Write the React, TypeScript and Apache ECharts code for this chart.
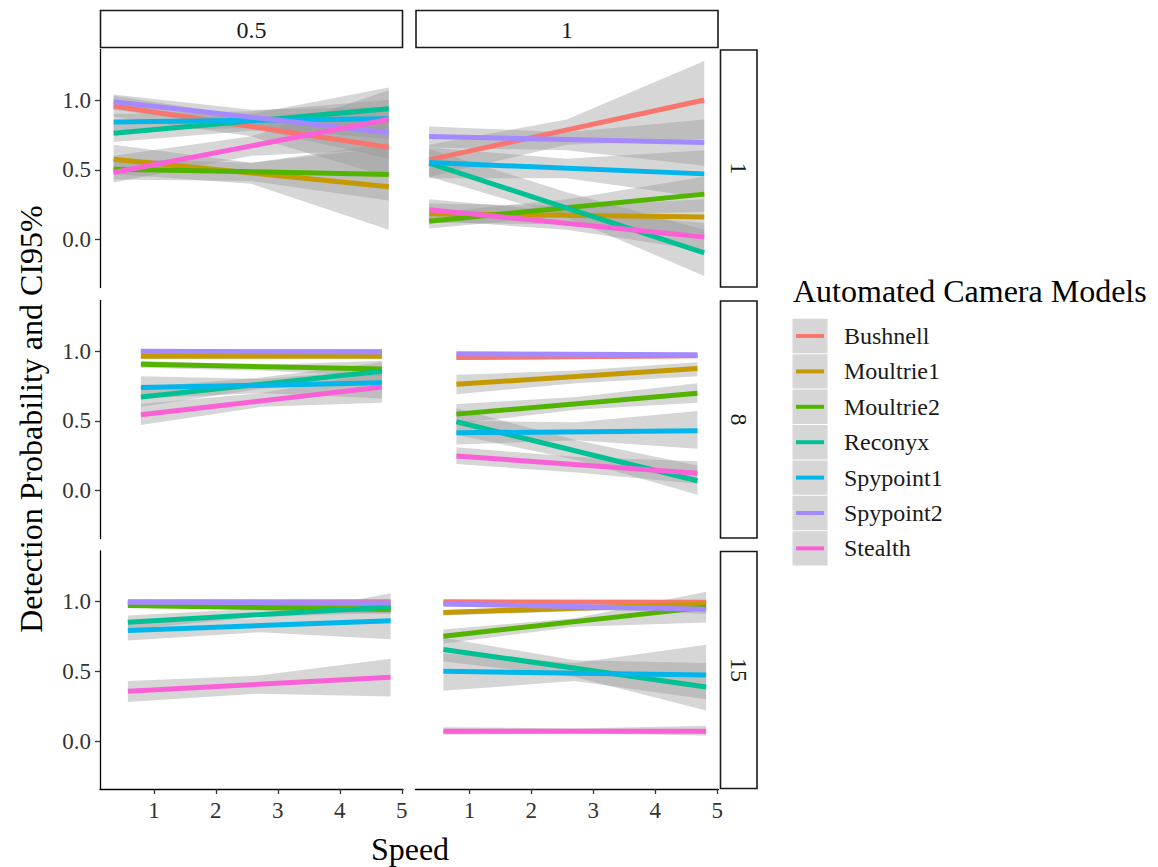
import React, { useEffect, useRef } from "react";
import * as echarts from "echarts";

// ---------- data ----------
const cameras = ["Bushnell", "Moultrie1", "Moultrie2", "Reconyx", "Spypoint1", "Spypoint2", "Stealth"];
const colors = ["#F8766D", "#C49A00", "#53B400", "#00C094", "#00B6EB", "#A58AFF", "#FB61D7"];
const colLabels = ["0.5", "1"];
const rowLabels = ["1", "8", "15"];
const xTicks = [1, 2, 3, 4, 5];
const yTicks = [0, 0.5, 1];

// speed positions (start, middle, end) of each panel's fitted lines
const speedR1 = [0.35, 2.57, 4.79];
const speedR8 = [0.79, 2.73, 4.68];
const speedR15 = [0.58, 2.7, 4.82];

// per camera: [fitStart, fitEnd, loStart, hiStart, loMid, hiMid, loEnd, hiEnd]
const fitRow1Col05 = [
  [0.957, 0.662, 0.88, 1.03, 0.74, 0.88, 0.45, 0.86],
  [0.576, 0.379, 0.47, 0.68, 0.4, 0.55, 0.07, 0.69],
  [0.505, 0.467, 0.43, 0.58, 0.42, 0.55, 0.28, 0.66],
  [0.762, 0.938, 0.7, 0.83, 0.78, 0.9, 0.78, 1.09],
  [0.843, 0.866, 0.78, 0.9, 0.8, 0.92, 0.72, 1.0],
  [0.988, 0.766, 0.93, 1.04, 0.8, 0.93, 0.58, 0.95],
  [0.481, 0.862, 0.41, 0.6, 0.6, 0.74, 0.65, 1.07],
];
const fitRow1Col1 = [
  [0.571, 1.0, 0.45, 0.68, 0.68, 0.86, 0.72, 1.28],
  [0.186, 0.162, 0.12, 0.26, 0.11, 0.24, 0.04, 0.29],
  [0.131, 0.326, 0.08, 0.19, 0.17, 0.29, 0.2, 0.45],
  [0.548, -0.095, 0.45, 0.65, 0.16, 0.34, -0.26, 0.07],
  [0.552, 0.471, 0.44, 0.66, 0.44, 0.58, 0.3, 0.64],
  [0.738, 0.695, 0.66, 0.81, 0.64, 0.77, 0.53, 0.86],
  [0.214, 0.019, 0.14, 0.29, 0.07, 0.2, -0.08, 0.12],
];
const fitRow8Col05 = [
  [0.995, 0.995, 0.985, 1.005, 0.985, 1.003, 0.985, 1.005],
  [0.962, 0.962, 0.945, 0.975, 0.95, 0.972, 0.945, 0.975],
  [0.905, 0.872, 0.88, 0.93, 0.86, 0.9, 0.82, 0.93],
  [0.671, 0.855, 0.6, 0.74, 0.73, 0.81, 0.78, 0.92],
  [0.738, 0.772, 0.66, 0.82, 0.7, 0.8, 0.66, 0.87],
  [0.998, 0.993, 0.99, 1.005, 0.99, 1.003, 0.985, 1.0],
  [0.543, 0.743, 0.47, 0.62, 0.6, 0.7, 0.63, 0.85],
];
const fitRow8Col1 = [
  [0.953, 0.967, 0.935, 0.97, 0.945, 0.975, 0.95, 0.985],
  [0.762, 0.874, 0.69, 0.83, 0.77, 0.86, 0.82, 0.92],
  [0.548, 0.698, 0.48, 0.62, 0.58, 0.67, 0.63, 0.77],
  [0.493, 0.071, 0.4, 0.59, 0.22, 0.36, -0.03, 0.18],
  [0.414, 0.429, 0.33, 0.5, 0.36, 0.49, 0.3, 0.57],
  [0.981, 0.974, 0.97, 0.99, 0.965, 0.985, 0.96, 0.985],
  [0.248, 0.124, 0.19, 0.31, 0.13, 0.24, 0.05, 0.21],
];
const fitRow15Col05 = [
  [0.998, 0.998, 0.99, 1.005, 0.99, 1.005, 0.99, 1.005],
  [0.985, 0.975, 0.975, 0.995, 0.965, 0.99, 0.955, 0.99],
  [0.971, 0.943, 0.955, 0.985, 0.94, 0.97, 0.91, 0.97],
  [0.852, 0.96, 0.8, 0.9, 0.89, 0.95, 0.92, 0.99],
  [0.793, 0.862, 0.72, 0.86, 0.78, 0.88, 0.73, 1.06],
  [0.995, 0.99, 0.99, 1.0, 0.985, 0.997, 0.98, 1.0],
  [0.357, 0.457, 0.28, 0.43, 0.34, 0.47, 0.32, 0.59],
];
const fitRow15Col1 = [
  [0.998, 0.995, 0.99, 1.006, 0.988, 1.004, 0.985, 1.005],
  [0.921, 0.983, 0.9, 0.94, 0.93, 0.97, 0.95, 1.01],
  [0.752, 0.96, 0.7, 0.8, 0.82, 0.88, 0.85, 1.07],
  [0.657, 0.388, 0.57, 0.74, 0.46, 0.58, 0.22, 0.56],
  [0.5, 0.474, 0.36, 0.63, 0.43, 0.56, 0.3, 0.69],
  [0.983, 0.945, 0.965, 1.0, 0.95, 0.98, 0.91, 0.98],
  [0.071, 0.071, 0.045, 0.1, 0.055, 0.09, 0.04, 0.11],
];

// panels in row-major order (row facet, column facet)
const panelFits = [fitRow1Col05, fitRow1Col1, fitRow8Col05, fitRow8Col1, fitRow15Col05, fitRow15Col1];
const panelSpeeds = [speedR1, speedR1, speedR8, speedR8, speedR15, speedR15];

// ---------- layout ----------
const FONT = '"Liberation Serif", "Times New Roman", serif';
const gridLefts = [100, 415.5];
const gridTops = [49.5, 300.5, 551];
const GW = 303;
const GH = 238;
const X_MIN = 0.13;
const X_MAX = 5.02;
const Y_MIN = -0.343;
const Y_MAX = 1.362;
const BAND_FILL = "rgba(153,153,153,0.4)";
const TITLE_SIZE = 32;

function buildOption() {
  const grid: any[] = [];
  const xAxis: any[] = [];
  const yAxis: any[] = [];
  const series: any[] = [];
  const graphic: any[] = [];

  for (let r = 0; r < 3; r++) {
    for (let c = 0; c < 2; c++) {
      const p = r * 2 + c;
      grid.push({ left: gridLefts[c], top: gridTops[r], width: GW, height: GH, containLabel: false });
      const showX = r === 2;
      const showY = c === 0;
      xAxis.push({
        gridIndex: p,
        type: "value",
        min: X_MIN,
        max: X_MAX,
        axisLine: { show: showX, onZero: false, lineStyle: { color: "#000", width: 1.3 } },
        axisTick: { show: showX, length: 5, customValues: xTicks, lineStyle: { color: "#333", width: 1.3 } },
        axisLabel: {
          show: showX,
          customValues: xTicks,
          margin: 10,
          fontSize: 23,
          fontFamily: FONT,
          color: "#333",
        },
        splitLine: { show: false },
      });
      yAxis.push({
        gridIndex: p,
        type: "value",
        min: Y_MIN,
        max: Y_MAX,
        axisLine: { show: showY, onZero: false, lineStyle: { color: "#000", width: 1.3 } },
        axisTick: { show: showY, length: 5, customValues: yTicks, lineStyle: { color: "#333", width: 1.3 } },
        axisLabel: {
          show: showY,
          customValues: yTicks,
          margin: 9,
          fontSize: 23,
          fontFamily: FONT,
          color: "#333",
          formatter: (v: number) => v.toFixed(1),
        },
        splitLine: { show: false },
      });

      const xs = panelSpeeds[p];
      const fits = panelFits[p];
      fits.forEach((f, i) => {
        const lo = [f[2], f[4], f[6]];
        const hi = [f[3], f[5], f[7]];
        series.push({
          type: "custom",
          name: cameras[i] + " CI",
          xAxisIndex: p,
          yAxisIndex: p,
          silent: true,
          clip: true,
          data: xs.map((x, k) => [x, lo[k], hi[k]]),
          encode: { x: 0, y: [1, 2] },
          renderItem: (params: any, api: any) => {
            if (params.dataIndex !== 0) return null;
            const up = xs.map((x, k) => api.coord([x, hi[k]]));
            const dn = xs.map((x, k) => api.coord([x, lo[k]])).reverse();
            return {
              type: "polygon",
              shape: { points: up.concat(dn) },
              style: { fill: BAND_FILL },
            };
          },
        });
        series.push({
          type: "line",
          name: cameras[i],
          xAxisIndex: p,
          yAxisIndex: p,
          silent: true,
          showSymbol: false,
          symbol: "none",
          clip: true,
          data: [
            [xs[0], f[0]],
            [xs[2], f[1]],
          ],
          lineStyle: { color: colors[i], width: 5, cap: "butt" },
          itemStyle: { color: colors[i] },
        });
      });

      // facet strips
      if (r === 0) {
        graphic.push({
          type: "rect",
          shape: { x: gridLefts[c] + 0.5, y: 10.5, width: GW - 1, height: 37 },
          style: { fill: "#fff", stroke: "#1a1a1a", lineWidth: 1.6 },
        });
        graphic.push({
          type: "text",
          x: gridLefts[c] + GW / 2,
          y: 29.5,
          style: {
            text: colLabels[c],
            fontSize: 24,
            fontFamily: FONT,
            fill: "#1a1a1a",
            align: "center",
            verticalAlign: "middle",
            textAlign: "center",
            textVerticalAlign: "middle",
          },
        });
      }
      if (c === 1) {
        graphic.push({
          type: "rect",
          shape: { x: 720.5, y: gridTops[r] + 0.5, width: 36.5, height: GH - 1 },
          style: { fill: "#fff", stroke: "#1a1a1a", lineWidth: 1.6 },
        });
        graphic.push({
          type: "text",
          x: 739,
          y: gridTops[r] + GH / 2,
          rotation: -Math.PI / 2,
          style: {
            text: rowLabels[r],
            fontSize: 24,
            fontFamily: FONT,
            fill: "#1a1a1a",
            align: "center",
            verticalAlign: "middle",
            textAlign: "center",
            textVerticalAlign: "middle",
          },
        });
      }
    }
  }

  // axis titles
  graphic.push({
    type: "text",
    x: 31,
    y: 419,
    rotation: Math.PI / 2,
    style: {
      text: "Detection Probability and CI95%",
      fontSize: TITLE_SIZE,
      fontFamily: FONT,
      fill: "#000",
      align: "center",
      verticalAlign: "middle",
      textAlign: "center",
      textVerticalAlign: "middle",
    },
  });
  graphic.push({
    type: "text",
    x: 410,
    y: 849,
    style: {
      text: "Speed",
      fontSize: TITLE_SIZE,
      fontFamily: FONT,
      fill: "#000",
      align: "center",
      verticalAlign: "middle",
      textAlign: "center",
      textVerticalAlign: "middle",
    },
  });

  // legend
  graphic.push({
    type: "text",
    x: 793,
    y: 291,
    style: {
      text: "Automated Camera Models",
      fontSize: TITLE_SIZE,
      fontFamily: FONT,
      fill: "#000",
      align: "left",
      verticalAlign: "middle",
      textAlign: "left",
      textVerticalAlign: "middle",
    },
  });
  const keyTop = 318.3;
  const keyH = 35.4;
  cameras.forEach((name, i) => {
    const y0 = keyTop + i * keyH;
    const cy = y0 + keyH / 2;
    graphic.push({
      type: "rect",
      shape: { x: 792.5, y: y0 + 0.5, width: 35, height: keyH - 1 },
      style: { fill: "#d6d6d6" },
    });
    graphic.push({
      type: "line",
      shape: { x1: 796, y1: cy, x2: 824, y2: cy },
      style: { stroke: colors[i], lineWidth: 4 },
    });
    graphic.push({
      type: "text",
      x: 844,
      y: cy,
      style: {
        text: name,
        fontSize: 24,
        fontFamily: FONT,
        fill: "#1a1a1a",
        align: "left",
        verticalAlign: "middle",
        textAlign: "left",
        textVerticalAlign: "middle",
      },
    });
  });

  return {
    animation: false,
    backgroundColor: "#fff",
    grid,
    xAxis,
    yAxis,
    series,
    graphic,
  };
}

export default function App() {
  const ref = useRef<HTMLDivElement>(null);
  useEffect(() => {
    if (!ref.current) return;
    const chart = echarts.init(ref.current, null, { renderer: "svg" });
    chart.setOption(buildOption());
    return () => chart.dispose();
  }, []);
  return (
    <div
      ref={ref}
      style={{ position: "fixed", left: 0, top: 0, width: 1158, height: 867, background: "#fff" }}
    />
  );
}
